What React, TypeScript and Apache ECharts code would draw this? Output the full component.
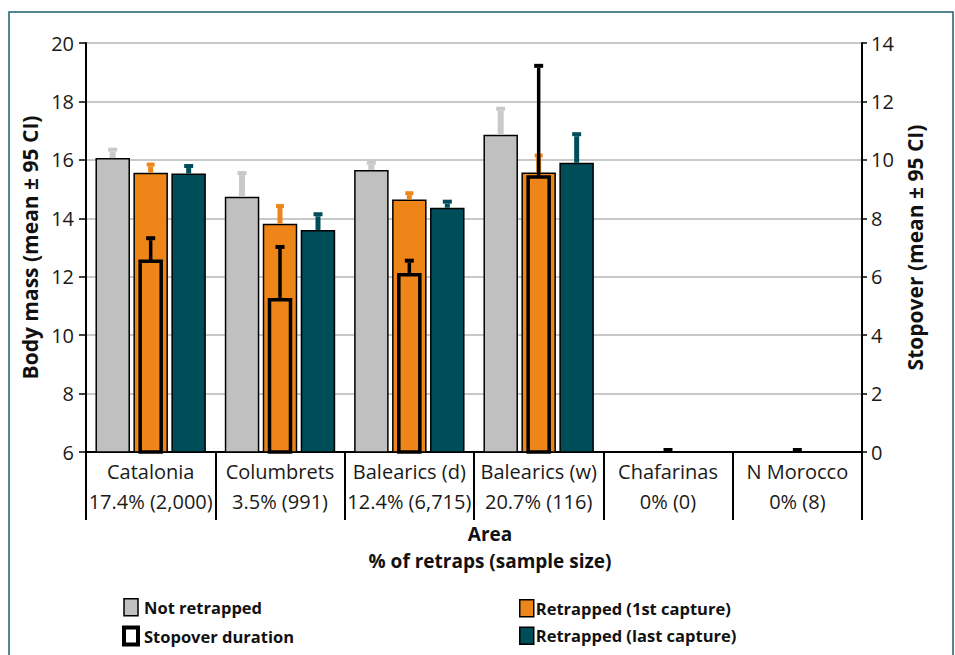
import React, { useEffect, useRef } from "react";
import * as echarts from "echarts";

const categories = ["Catalonia", "Columbrets", "Balearics (d)", "Balearics (w)", "Chafarinas", "N Morocco"];
const retrapLabels = ["17.4% (2,000)", "3.5% (991)", "12.4% (6,715)", "20.7% (116)", "0% (0)", "0% (8)"];

const notRetrapped = [16.06, 14.74, 15.65, 16.86, null, null];
const notRetrappedUpper = [16.28, 15.48, 15.83, 17.68, null, null];
const firstCapture = [15.56, 13.81, 14.64, 15.57, null, null];
const firstCaptureUpper = [15.77, 14.35, 14.79, 16.08, null, null];
const lastCapture = [15.53, 13.6, 14.36, 15.9, null, null];
const lastCaptureUpper = [15.72, 14.07, 14.5, 16.81, null, null];
const stopover = [6.53, 5.21, 6.07, 9.41, 0, 0];
const stopoverUpper = [7.25, 6.95, 6.48, 13.15, 0, 0];

const leftTicks = { min: 6, max: 20, interval: 2 };
const rightTicks = { min: 0, max: 14, interval: 2 };

const GREY = "#c0c0c0";
const GREY_ERR = "#c9c9c9";
const ORANGE = "#ee8518";
const TEAL = "#004d5a";
const BAR_W = 34.5;
const OFFSET = 38;
const FONT = "'Open Sans', 'Noto Sans', sans-serif";

function errData(vals: (number | null)[], ups: (number | null)[]) {
  return vals.map((v, i) => (v == null || ups[i] == null ? [i, "-", "-"] : [i, v, ups[i]]));
}

function errRender(offset: number, color: string, stemW: number, capW: number) {
  return (params: any, api: any) => {
    const v = api.value(1);
    const u = api.value(2);
    if (isNaN(v) || isNaN(u)) return null;
    const top = api.coord([api.value(0), u]);
    const base = api.coord([api.value(0), v]);
    const x = top[0] + offset;
    return {
      type: "group",
      children: [
        {
          type: "rect",
          shape: { x: x - stemW / 2, y: top[1], width: stemW, height: Math.max(0, base[1] - top[1]) },
          style: { fill: color },
        },
        {
          type: "rect",
          shape: { x: x - capW / 2, y: top[1] - 4, width: capW, height: 4 },
          style: { fill: color },
        },
      ],
    };
  };
}

export default function App() {
  const ref = useRef<HTMLDivElement>(null);
  useEffect(() => {
    if (!ref.current) return;
    const chart = echarts.init(ref.current, null, { renderer: "svg" });
    const option: any = {
      animation: false,
      backgroundColor: "#ffffff",
      textStyle: { fontFamily: FONT },
      graphic: [
        {
          type: "rect",
          shape: { x: 9, y: 12, width: 944, height: 700 },
          style: { fill: "none", stroke: "#1c6070", lineWidth: 1.5 },
          silent: true,
        },
      ],
      grid: { left: 86, right: 93, top: 43, bottom: 203 },
      legend: [
        {
          orient: "vertical",
          left: 117,
          top: 593,
          itemWidth: 14,
          itemHeight: 17,
          itemGap: 9,
          selectedMode: false,
          textStyle: { fontFamily: FONT, fontWeight: "bold", fontSize: 16.5, color: "#111", padding: [0, 0, 0, 1] },
          data: [
            { name: "Not retrapped", icon: "rect", itemStyle: { color: GREY, borderColor: "#000", borderWidth: 1.5 } },
            { name: "Stopover duration", icon: "rect", itemStyle: { color: "#fff", borderColor: "#000", borderWidth: 4 } },
          ],
        },
        {
          orient: "vertical",
          left: 514,
          top: 594,
          itemWidth: 14,
          itemHeight: 17,
          itemGap: 9,
          selectedMode: false,
          textStyle: { fontFamily: FONT, fontWeight: "bold", fontSize: 16.5, color: "#111", padding: [0, 0, 0, -3] },
          data: [
            { name: "Retrapped (1st capture)", icon: "rect", itemStyle: { color: ORANGE, borderColor: "#000", borderWidth: 1.5 } },
            { name: "Retrapped (last capture)", icon: "rect", itemStyle: { color: TEAL, borderColor: "#000", borderWidth: 1.5 } },
          ],
        },
      ],
      xAxis: {
        type: "category",
        data: categories,
        boundaryGap: true,
        name: "Area\n% of retraps (sample size)",
        nameLocation: "middle",
        nameGap: 67,
        nameTextStyle: {
          fontFamily: FONT,
          fontWeight: "bold",
          fontSize: 19,
          color: "#111",
          lineHeight: 27,
          padding: [0, 0, 0, 32],
        },
        axisLine: { lineStyle: { color: "#000", width: 2 } },
        axisTick: { show: true, interval: 0, length: 68, lineStyle: { color: "#000", width: 2 } },
        axisLabel: {
          interval: 0,
          margin: 4,
          fontFamily: FONT,
          fontSize: 20,
          color: "#1a1a1a",
          lineHeight: 30,
          formatter: (v: string) => {
            const i = categories.indexOf(v);
            return v + "\n" + retrapLabels[i];
          },
        },
        splitLine: { show: false },
      },
      yAxis: [
        {
          type: "value",
          min: leftTicks.min,
          max: leftTicks.max,
          interval: leftTicks.interval,
          name: "Body mass (mean ± 95 CI)",
          nameLocation: "middle",
          nameRotate: 90,
          nameGap: 40,
          nameTextStyle: { fontFamily: FONT, fontWeight: "bold", fontSize: 21, color: "#111" },
          axisLine: { show: true, lineStyle: { color: "#000", width: 2 } },
          axisTick: { show: true, length: 7, lineStyle: { color: "#000", width: 1.5 } },
          axisLabel: { margin: 12, fontFamily: FONT, fontSize: 20, color: "#1a1a1a" },
          splitLine: { show: true, lineStyle: { color: "#c8c8c8", width: 2 } },
        },
        {
          type: "value",
          min: rightTicks.min,
          max: rightTicks.max,
          interval: rightTicks.interval,
          position: "right",
          name: "Stopover (mean ± 95 CI)",
          nameLocation: "middle",
          nameRotate: 90,
          nameGap: 41,
          nameTextStyle: { fontFamily: FONT, fontWeight: "bold", fontSize: 21, color: "#111" },
          axisLine: { show: true, lineStyle: { color: "#000", width: 2 } },
          axisTick: { show: true, length: 5, lineStyle: { color: "#000", width: 1.5 } },
          axisLabel: { margin: 9, fontFamily: FONT, fontSize: 20, color: "#1a1a1a" },
          splitLine: { show: false },
        },
      ],
      series: [
        {
          name: "Not retrapped",
          type: "bar",
          yAxisIndex: 0,
          barWidth: BAR_W,
          barGap: "10%",
          data: notRetrapped.map((v) => (v == null ? "-" : v)),
          itemStyle: { color: GREY, borderColor: "#000", borderWidth: 1.5 },
          z: 2,
        },
        {
          name: "Retrapped (1st capture)",
          type: "bar",
          yAxisIndex: 0,
          barWidth: BAR_W,
          barGap: "10%",
          data: firstCapture.map((v) => (v == null ? "-" : v)),
          itemStyle: { color: ORANGE, borderColor: "#000", borderWidth: 1.5 },
          z: 2,
        },
        {
          name: "Retrapped (last capture)",
          type: "bar",
          yAxisIndex: 0,
          barWidth: BAR_W,
          barGap: "10%",
          data: lastCapture.map((v) => (v == null ? "-" : v)),
          itemStyle: { color: TEAL, borderColor: "#000", borderWidth: 1.5 },
          z: 2,
        },
        {
          name: "errNot",
          type: "custom",
          yAxisIndex: 0,
          data: errData(notRetrapped, notRetrappedUpper),
          renderItem: errRender(-OFFSET, GREY_ERR, 6, 9),
          encode: { x: 0, y: [1, 2] },
          z: 3,
          silent: true,
        },
        {
          name: "errFirst",
          type: "custom",
          yAxisIndex: 0,
          data: errData(firstCapture, firstCaptureUpper),
          renderItem: errRender(0, ORANGE, 5, 8),
          encode: { x: 0, y: [1, 2] },
          z: 3,
          silent: true,
        },
        {
          name: "errLast",
          type: "custom",
          yAxisIndex: 0,
          data: errData(lastCapture, lastCaptureUpper),
          renderItem: errRender(OFFSET, TEAL, 5, 9),
          encode: { x: 0, y: [1, 2] },
          z: 3,
          silent: true,
        },
        {
          name: "Stopover duration",
          type: "custom",
          yAxisIndex: 1,
          data: stopover.map((v, i) => [i, v]),
          encode: { x: 0, y: 1 },
          itemStyle: { color: "#fff", borderColor: "#000" },
          renderItem: (params: any, api: any) => {
            const v = api.value(1);
            if (!(v > 0)) return null;
            const top = api.coord([api.value(0), v]);
            const base = api.coord([api.value(0), 0]);
            return {
              type: "rect",
              shape: { x: top[0] - 10.5, y: top[1], width: 21, height: base[1] - top[1] },
              style: { fill: "none", stroke: "#000", lineWidth: 3.5 },
            };
          },
          z: 4,
          silent: true,
        },
        {
          name: "errStop",
          type: "custom",
          yAxisIndex: 1,
          data: errData(stopover, stopoverUpper),
          renderItem: errRender(0, "#000", 3.5, 9),
          encode: { x: 0, y: [1, 2] },
          z: 5,
          silent: true,
        },
      ],
    };
    chart.setOption(option);
    return () => chart.dispose();
  }, []);
  return (
    <div
      ref={ref}
      style={{ position: "absolute", left: 0, top: 0, width: 955, height: 655, background: "#fff" }}
    />
  );
}
